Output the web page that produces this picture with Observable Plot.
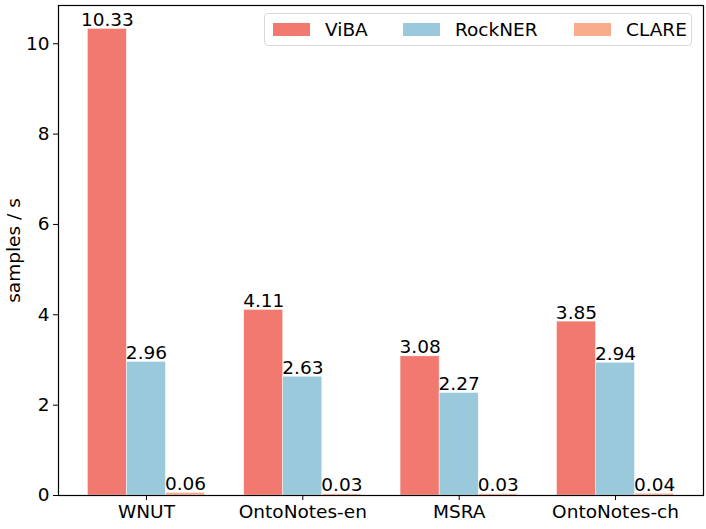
<!DOCTYPE html>
<html>
<head>
<meta charset="utf-8">
<script src="https://cdn.jsdelivr.net/npm/d3@7"></script>
<script src="https://cdn.jsdelivr.net/npm/@observablehq/plot@0.6"></script>
<style>
  body { margin: 0; background: #fff; }
  #wrap { position: relative; width: 706px; height: 529px; font-family: "DejaVu Sans", sans-serif; }
  #legend { position: absolute; left: 264px; top: 13px; width: 428px; height: 33px; border: 1px solid #d9d9d9; border-radius: 4px; background: rgba(255,255,255,0.8); box-sizing: border-box; }
  .item { position: absolute; top: 0; height: 31px; display: flex; align-items: center; font-size: 18.5px; color: #000; }
  .sw { width: 37px; height: 13px; margin-right: 15px; }
</style>
</head>
<body>
<div id="wrap"></div>
<script>
const datasets = ["WNUT", "OntoNotes-en", "MSRA", "OntoNotes-ch"];
const methods = ["ViBA", "RockNER", "CLARE"];
const colors = ["#F27970", "#9AC9DB", "#F8AC8C"];
const viba = [10.33, 4.11, 3.08, 3.85];
const rockner = [2.96, 2.63, 2.27, 2.94];
const clare = [0.06, 0.03, 0.03, 0.04];
const yTicks = [0, 2, 4, 6, 8, 10];

const series = [viba, rockner, clare];
const barWidth = 0.25;
const rows = [];
series.forEach((vals, si) => {
  vals.forEach((v, gi) => {
    const c = gi + (si - 1) * barWidth;
    rows.push({dataset: datasets[gi], method: methods[si], value: v, x1: c - barWidth / 2, x2: c + barWidth / 2, xc: c});
  });
});
const xPad = (datasets.length - 1 + 3 * barWidth) * 0.05;
const xDomain = [-1.5 * barWidth - xPad, datasets.length - 1 + 1.5 * barWidth + xPad];
const yMax = Math.max(...viba, ...rockner, ...clare) * 1.05;
const FS = 18.5;

const chart = Plot.plot({
  width: 706,
  height: 529,
  marginLeft: 58,
  marginRight: 3,
  marginTop: 5,
  marginBottom: 34,
  style: {fontFamily: "DejaVu Sans, sans-serif", fontSize: FS + "px", background: "#fff", color: "#000"},
  x: {domain: xDomain},
  y: {domain: [0, yMax]},
  color: {domain: methods, range: colors},
  marks: [
    Plot.rectY(rows, {x1: "x1", x2: "x2", y1: 0, y2: "value", fill: "method", stroke: "#fff", strokeWidth: 0.5}),
    Plot.text(rows, {x: "xc", y: "value", text: d => d.value.toFixed(2), lineAnchor: "bottom", dy: -3, fontSize: FS, fill: "#000"}),
    Plot.frame({stroke: "#000", strokeWidth: 1.2}),
    Plot.axisX({ticks: datasets.map((d, i) => i), tickFormat: i => datasets[i], tickSize: 5, tickPadding: 4, fontSize: FS, label: null}),
    Plot.axisY({ticks: yTicks, tickSize: 5, tickPadding: 4, fontSize: FS, label: "samples / s", labelAnchor: "center", labelArrow: "none", labelOffset: 52})
  ]
});
const wrap = document.getElementById("wrap");
wrap.appendChild(chart);

const legend = document.createElement("div");
legend.id = "legend";
const lefts = [8, 138, 309];
methods.forEach((m, i) => {
  const it = document.createElement("div");
  it.className = "item";
  it.style.left = lefts[i] + "px";
  const sw = document.createElement("div");
  sw.className = "sw";
  sw.style.background = colors[i];
  const t = document.createElement("span");
  t.textContent = m;
  it.appendChild(sw);
  it.appendChild(t);
  legend.appendChild(it);
});
wrap.appendChild(legend);
</script>
</body>
</html>
